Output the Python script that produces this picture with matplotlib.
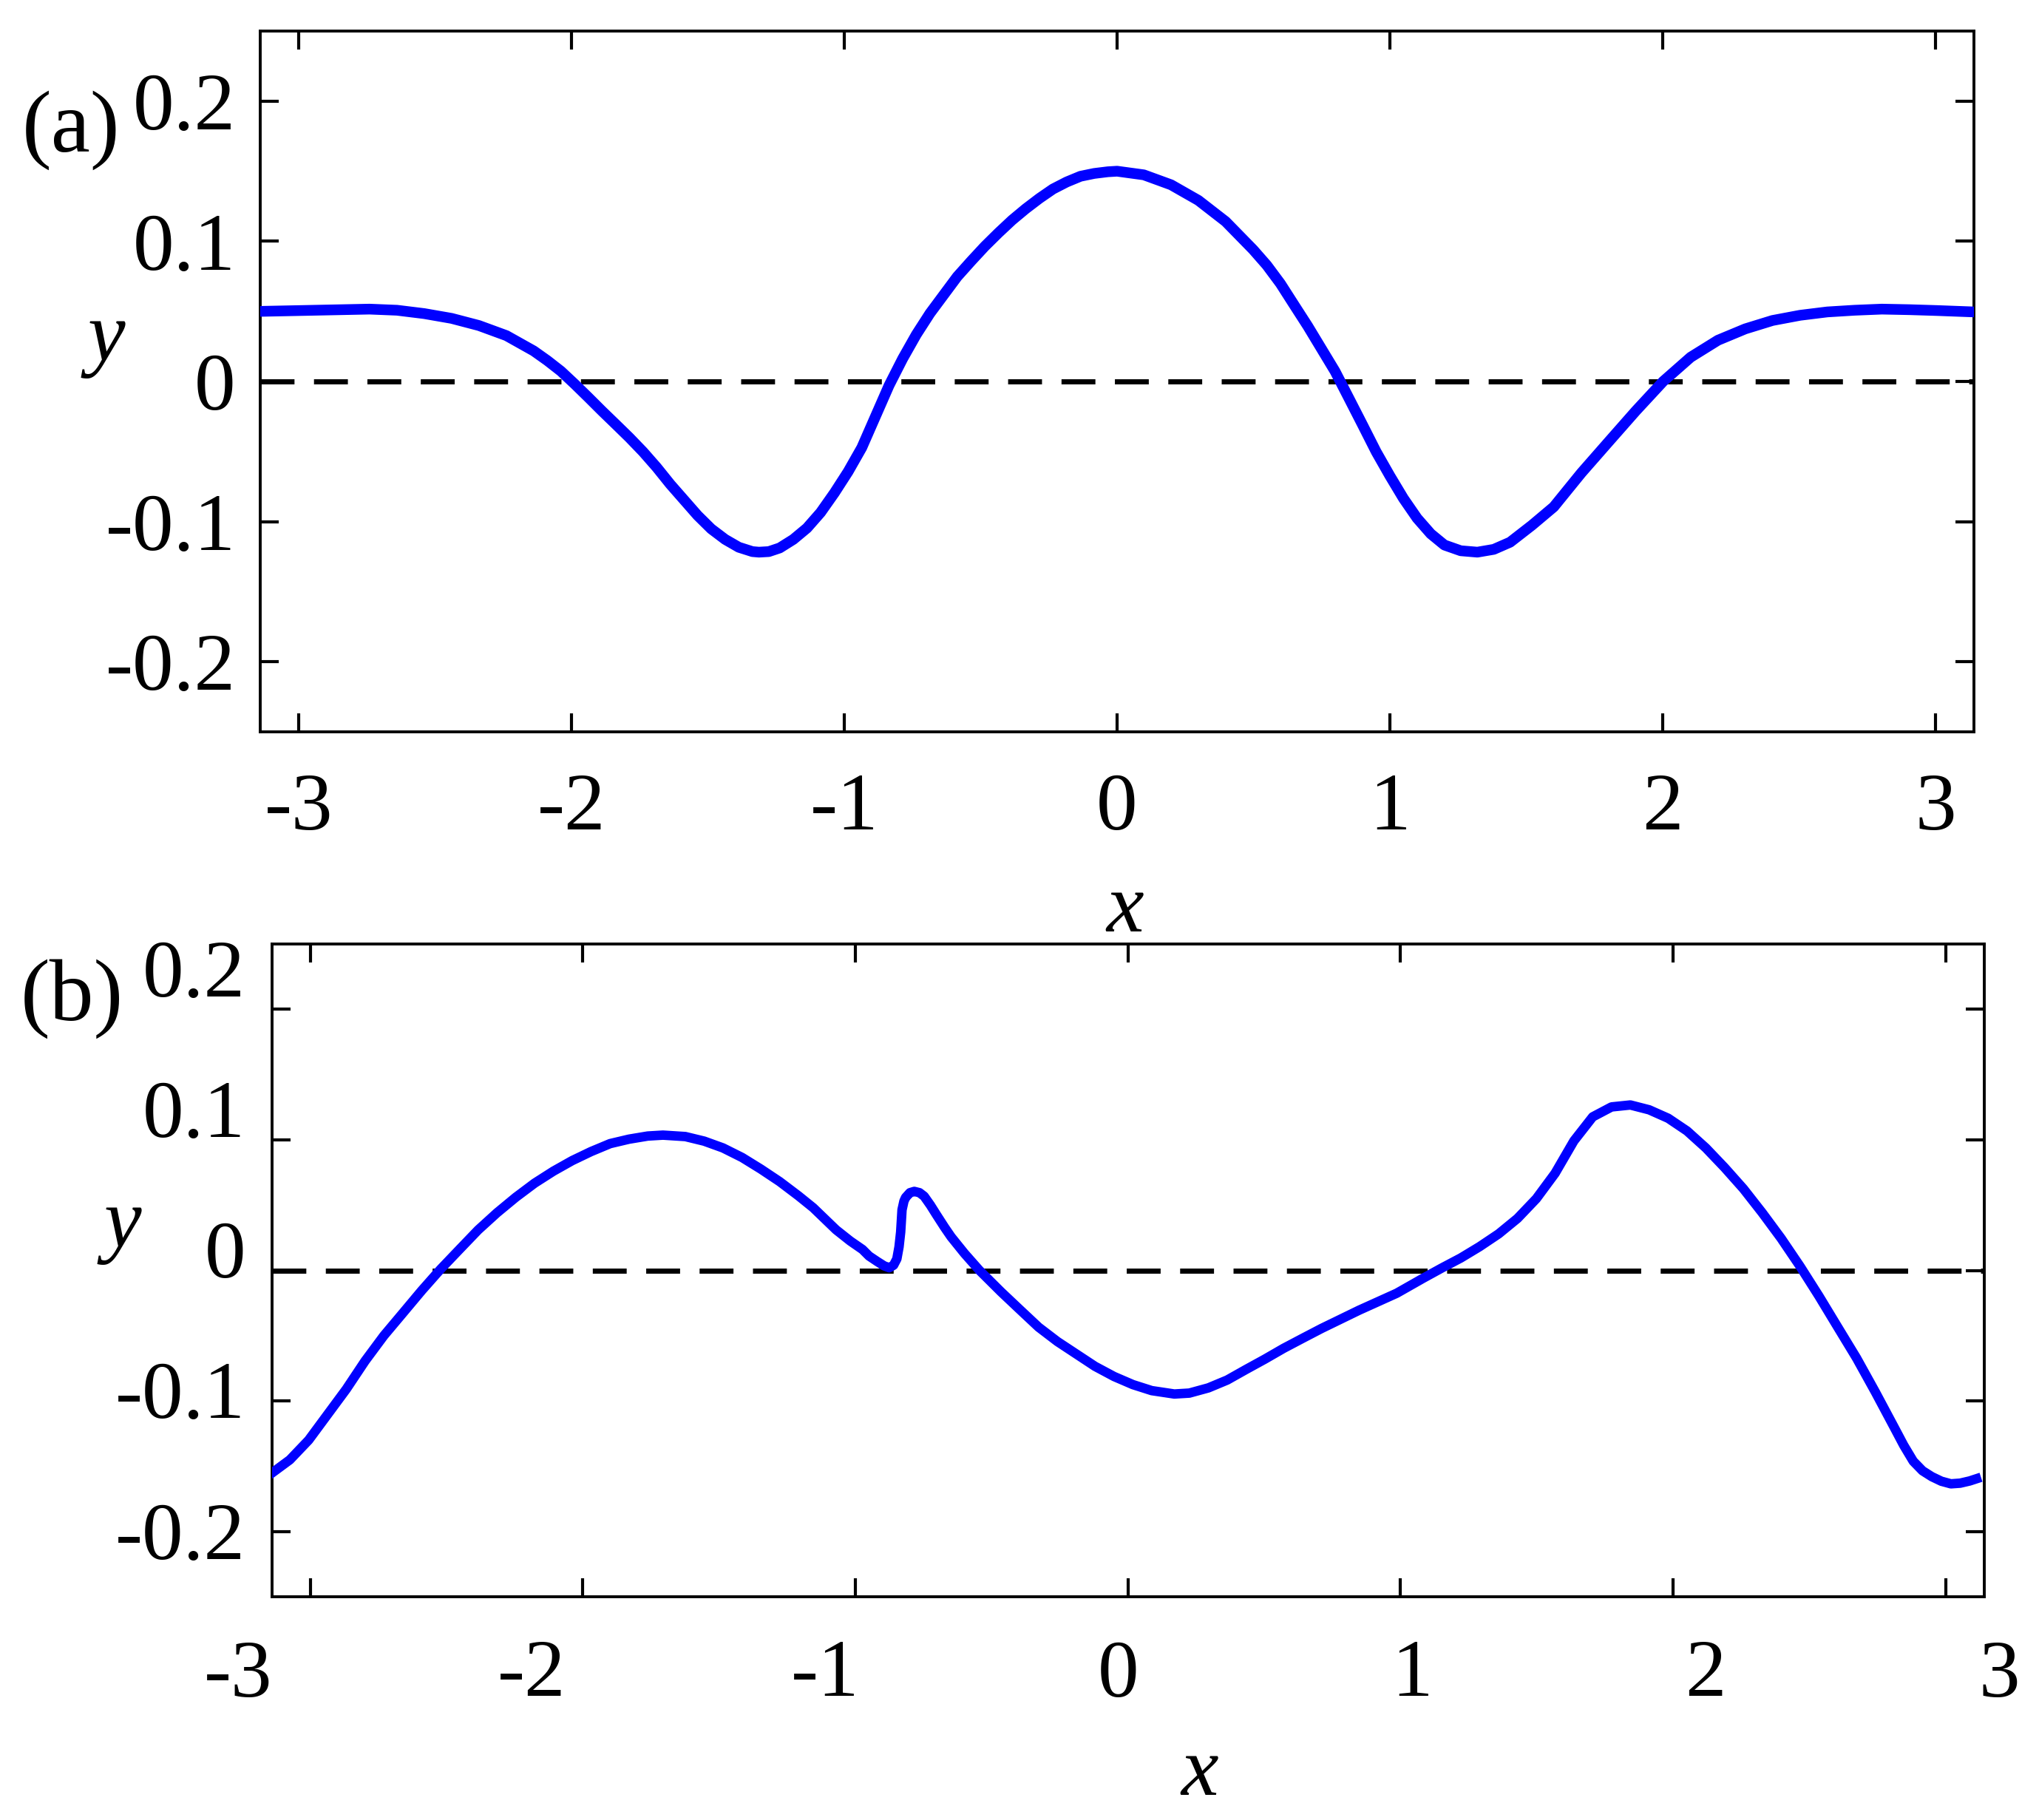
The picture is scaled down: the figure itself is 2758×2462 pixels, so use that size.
import numpy as np
import matplotlib
matplotlib.use('Agg')
import matplotlib.pyplot as plt

plt.rcParams['font.family'] = ['Liberation Serif', 'DejaVu Serif']

# panel (a) curve
xa = [-3.1416, -3.041, -2.941, -2.841, -2.741, -2.640, -2.540, -2.440, -2.340, -2.239,
      -2.139, -2.089, -2.039, -1.989, -1.939, -1.889, -1.838, -1.788, -1.738, -1.688,
      -1.638, -1.588, -1.538, -1.488, -1.437, -1.387, -1.337, -1.313, -1.277, -1.237,
      -1.187, -1.137, -1.087, -1.036, -0.986, -0.936, -0.886, -0.836, -0.786, -0.736,
      -0.686, -0.636, -0.586, -0.535, -0.485, -0.435, -0.385, -0.335, -0.285, -0.235,
      -0.185, -0.134, -0.084, -0.034, 0.0,
      0.098, 0.198, 0.298, 0.398, 0.499, 0.549, 0.599, 0.649, 0.699, 0.749,
      0.799, 0.850, 0.900, 0.950, 1.000, 1.050, 1.100, 1.150, 1.200, 1.260,
      1.321, 1.381, 1.441, 1.521, 1.601, 1.702, 1.802, 1.902, 2.002, 2.103,
      2.203, 2.303, 2.403, 2.504, 2.604, 2.704, 2.804, 2.905, 3.005, 3.1416]
ya = [0.0500, 0.0504, 0.0508, 0.0512, 0.0516, 0.0508, 0.0484, 0.0450, 0.0399, 0.0327,
      0.0218, 0.0149, 0.0073, -0.0018, -0.0113, -0.0210, -0.0306, -0.0401, -0.0502, -0.0613,
      -0.0734, -0.0845, -0.0956, -0.1052, -0.1127, -0.1183, -0.1214, -0.1218, -0.1214, -0.1188,
      -0.1127, -0.1046, -0.0935, -0.0794, -0.0643, -0.0472, -0.0250, -0.0028, 0.0163, 0.0335,
      0.0486, 0.0617, 0.0748, 0.0859, 0.0964, 0.1060, 0.1151, 0.1232, 0.1306, 0.1373,
      0.1423, 0.1464, 0.1484, 0.1496, 0.1500,
      0.1474, 0.1403, 0.1292, 0.1141, 0.0940, 0.0829, 0.0698, 0.0546, 0.0395, 0.0234,
      0.0073, -0.0120, -0.0310, -0.0502, -0.0673, -0.0835, -0.0976, -0.1087, -0.1167, -0.1208,
      -0.1218, -0.1198, -0.1147, -0.1026, -0.0895, -0.0653, -0.0431, -0.0210, 0.0, 0.0173,
      0.0294, 0.0375, 0.0435, 0.0472, 0.0496, 0.0508, 0.0516, 0.0512, 0.0506, 0.0496]

# panel (b) curve
xb = [-3.138, -3.075, -3.006, -2.937, -2.868, -2.799, -2.730, -2.660, -2.591, -2.522,
      -2.453, -2.384, -2.315, -2.246, -2.177, -2.108, -2.039, -1.970, -1.900, -1.831,
      -1.762, -1.706, -1.624, -1.555, -1.486, -1.416, -1.347, -1.278, -1.209, -1.155,
      -1.071, -1.019, -0.974, -0.950, -0.920, -0.895, -0.876, -0.860, -0.848, -0.840,
      -0.834, -0.829, -0.822, -0.816, -0.800, -0.784, -0.765, -0.748, -0.725, -0.703,
      -0.673, -0.649, -0.600, -0.545, -0.466, -0.397, -0.328, -0.259, -0.190, -0.121,
      -0.051, 0.018, 0.087, 0.170, 0.225, 0.295, 0.364, 0.433, 0.502, 0.571,
      0.641, 0.710, 0.779, 0.848, 0.917, 0.986, 1.083, 1.152, 1.221, 1.290,
      1.360, 1.429, 1.498, 1.567, 1.636, 1.705, 1.774, 1.843, 1.912, 1.982,
      2.051, 2.120, 2.189, 2.258, 2.327, 2.396, 2.466, 2.535, 2.604, 2.673,
      2.742, 2.811, 2.846, 2.881, 2.915, 2.949, 2.984, 3.019, 3.053, 3.088,
      3.113]
yb = [-0.1548, -0.1451, -0.1300, -0.1105, -0.0910, -0.0694, -0.0500, -0.0326, -0.0154, 0.0009,
      0.0160, 0.0310, 0.0441, 0.0560, 0.0668, 0.0760, 0.0841, 0.0910, 0.0971, 0.1005,
      0.1029, 0.1036, 0.1025, 0.0990, 0.0938, 0.0865, 0.0776, 0.0680, 0.0571, 0.0480,
      0.0311, 0.0225, 0.0160, 0.0110, 0.0068, 0.0035, 0.0020, 0.0040, 0.0088, 0.0180,
      0.0294, 0.0464, 0.0530, 0.0558, 0.0595, 0.0605, 0.0595, 0.0568, 0.0500, 0.0427,
      0.0330, 0.0257, 0.0130, 0.0, -0.0164, -0.0300, -0.0435, -0.0545, -0.0640, -0.0735,
      -0.0813, -0.0875, -0.0921, -0.0947, -0.0940, -0.0900, -0.0840, -0.0759, -0.0680, -0.0597,
      -0.0520, -0.0445, -0.0375, -0.0305, -0.0240, -0.0175, -0.0060, 0.0019, 0.0095, 0.0182,
      0.0280, 0.0398, 0.0549, 0.0744, 0.0992, 0.1176, 0.1252, 0.1267, 0.1230, 0.1165,
      0.1068, 0.0938, 0.0787, 0.0625, 0.0441, 0.0246, 0.0030, -0.0197, -0.0435, -0.0672,
      -0.0932, -0.1202, -0.1340, -0.1462, -0.1535, -0.1580, -0.1615, -0.1635, -0.1630, -0.1613,
      -0.1596]

xticks = [-3, -2, -1, 0, 1, 2, 3]
yticks = [-0.2, -0.1, 0, 0.1, 0.2]
xtick_labels = ['-3', '-2', '-1', '0', '1', '2', '3']
ytick_labels = ['-0.2', '-0.1', '0', '0.1', '0.2']

W, H = 2758, 2462
fig = plt.figure(figsize=(W / 200, H / 200), dpi=200)

def fx(px):
    return px / W

def fy(py):
    return 1 - py / H

FS = 40

def style(ax):
    ax.set_xlim(-np.pi, np.pi)
    ax.set_ylim(-0.25, 0.25)
    ax.set_xticks(xticks)
    ax.set_yticks(yticks)
    ax.tick_params(direction='in', length=9, width=1.5, top=True, right=True, labelsize=FS)
    for s in ax.spines.values():
        s.set_linewidth(1.4)
    ax.axhline(0, color='black', lw=2.5, ls=(0, (6.6, 3.8)), zorder=1)

# (a)
ax1 = fig.add_axes([fx(352), fy(990), fx(2670 - 352), (990 - 42) / H])
style(ax1)
ax1.plot(xa, ya, color='#0000ff', lw=5.2, zorder=3, solid_joinstyle='round')
ax1.set_xticklabels(xtick_labels)
ax1.set_yticklabels(ytick_labels)
ax1.tick_params(axis='x', pad=20)
ax1.tick_params(axis='y', pad=12)

# (b)
ax2 = fig.add_axes([fx(367.5), fy(2160), fx(2684 - 367.5), (2160 - 1277) / H])
style(ax2)
ax2.plot(xb, yb, color='#0000ff', lw=4.6, zorder=3, solid_joinstyle='round')
ax2.set_xticklabels([])
ax2.set_yticklabels([])
# the tick labels of (b) sit a little off their ticks in the original
for k, lab in zip(xticks, xtick_labels):
    fig.text(fx(1513 + 397 * k), fy(2218), lab, fontsize=FS, ha='center', va='top')
for v, lab in zip(yticks, ytick_labels):
    fig.text(fx(332), fy(1690 - 1902 * v), lab, fontsize=FS, ha='right', va='center_baseline')

# axis names and panel tags
fig.text(fx(96), fy(176), '(a)', fontsize=43, ha='center', va='center')
fig.text(fx(97), fy(1351), '(b)', fontsize=43, ha='center', va='center')
fig.text(fx(144), fy(488), 'y', fontsize=41, style='italic', ha='center', va='baseline')
fig.text(fx(166), fy(1687), 'y', fontsize=41, style='italic', ha='center', va='baseline')
fig.text(fx(1522), fy(1260), 'x', fontsize=41, style='italic', ha='center', va='baseline')
fig.text(fx(1623), fy(2428), 'x', fontsize=41, style='italic', ha='center', va='baseline')

fig.savefig('out.png', dpi=200, facecolor='white')
